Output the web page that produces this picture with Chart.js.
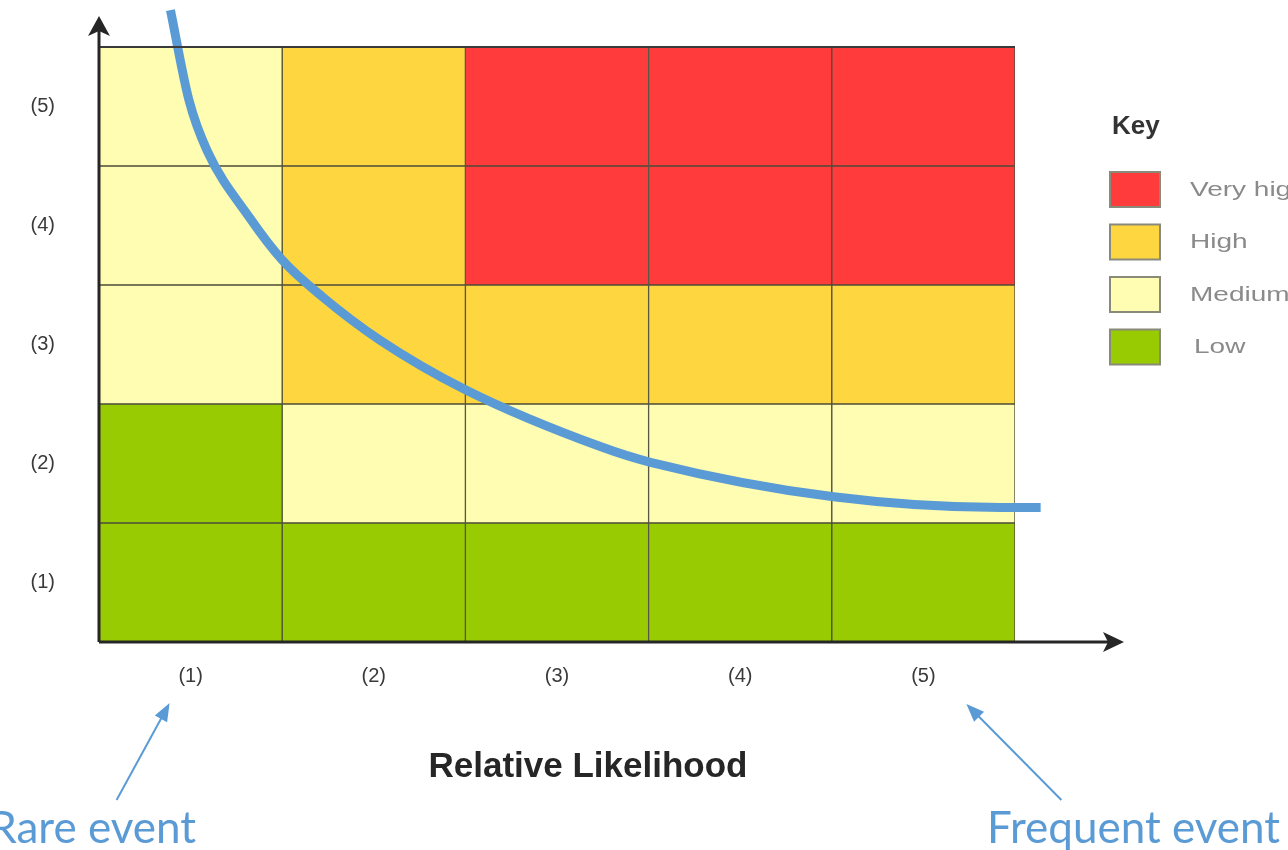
<!DOCTYPE html>
<html>
<head>
<meta charset="utf-8">
<script src="https://cdn.jsdelivr.net/npm/chart.js@4"></script>
<style>
  html, body { margin: 0; padding: 0; background: #fff; }
  #wrap { width: 1288px; height: 850px; position: relative; }
</style>
</head>
<body>
<div id="wrap"><canvas id="riskChart" width="1288" height="850"></canvas></div>
<script>
// categories
const likelihoodLabels = ['(1)', '(2)', '(3)', '(4)', '(5)'];
const severityLabels = ['(1)', '(2)', '(3)', '(4)', '(5)'];

// risk level of each cell, rows from severity (1) up to (5), columns likelihood (1)..(5)
const riskRow1 = ['Low', 'Low', 'Low', 'Low', 'Low'];
const riskRow2 = ['Low', 'Medium', 'Medium', 'Medium', 'Medium'];
const riskRow3 = ['Medium', 'High', 'High', 'High', 'High'];
const riskRow4 = ['Medium', 'High', 'Very high', 'Very high', 'Very high'];
const riskRow5 = ['Medium', 'High', 'Very high', 'Very high', 'Very high'];
const riskRows = [riskRow1, riskRow2, riskRow3, riskRow4, riskRow5];

// key
const keyLevels = ['Very high', 'High', 'Medium', 'Low'];
const keyColors = ['#ff3b3b', '#fed640', '#fefdb2', '#99cb03'];

// acceptability curve (likelihood, severity)
const curveX = [0.39, 0.49, 0.59, 0.82, 1.00, 1.22, 1.53, 2.00, 2.74, 3.01, 4.01, 4.92, 5.14];
const curveY = [5.31, 4.56, 4.13, 3.57, 3.21, 2.90, 2.54, 2.12, 1.64, 1.51, 1.22, 1.13, 1.13];

const colorOf = level => keyColors[keyLevels.indexOf(level)];

const cellDatasets = riskRows.map((row, i) => ({
    type: 'bar',
    label: 'Severity ' + severityLabels[i],
    stack: 'cells',
    grouped: false,
    data: row.map(() => 1),
    backgroundColor: row.map(colorOf),
    borderColor: '#4d4d3a',
    borderWidth: 1,
    borderSkipped: false,
    categoryPercentage: 1,
    barPercentage: 1,
    order: 1
}));

const curveDataset = {
    type: 'line',
    label: 'Curve',
    xAxisID: 'x2',
    data: curveX.map((x, i) => ({ x: x, y: curveY[i] })),
    borderColor: '#5b9bd5',
    borderWidth: 9,
    pointRadius: 0,
    cubicInterpolationMode: 'monotone',
    fill: false,
    clip: false,
    order: 0
};

const noPadding = s => {
    s.paddingTop = 0;
    s.paddingBottom = 0;
    s.paddingLeft = 0;
    s.paddingRight = 0;
};

// axes arrows, title, key and notes
const decorations = {
    id: 'decorations',
    afterDatasetsDraw(chart) {
        const { ctx, chartArea } = chart;
        const xs = chart.scales.x;
        const left = chartArea.left, bottom = chartArea.bottom;

        ctx.save();
        // top frame line
        ctx.strokeStyle = '#3a3a3a';
        ctx.lineWidth = 2;
        ctx.beginPath();
        ctx.moveTo(left, chartArea.top);
        ctx.lineTo(chartArea.right, chartArea.top);
        ctx.stroke();

        // axes
        ctx.strokeStyle = '#262626';
        ctx.fillStyle = '#262626';
        ctx.lineWidth = 3;
        ctx.beginPath();
        ctx.moveTo(left, bottom);
        ctx.lineTo(left, 30);
        ctx.moveTo(left, bottom);
        ctx.lineTo(1110, bottom);
        ctx.stroke();
        ctx.beginPath();
        ctx.moveTo(left, 16);
        ctx.lineTo(left - 11, 36);
        ctx.lineTo(left, 31);
        ctx.lineTo(left + 11, 36);
        ctx.closePath();
        ctx.fill();
        ctx.beginPath();
        ctx.moveTo(1124, bottom);
        ctx.lineTo(1103, bottom - 10);
        ctx.lineTo(1108, bottom);
        ctx.lineTo(1103, bottom + 10);
        ctx.closePath();
        ctx.fill();

        // axis title
        ctx.fillStyle = '#262626';
        ctx.font = 'bold 35px "Liberation Sans", Arial, sans-serif';
        ctx.textAlign = 'center';
        ctx.textBaseline = 'middle';
        ctx.fillText('Relative Likelihood', 588, 767);

        // key
        ctx.textAlign = 'left';
        ctx.fillStyle = '#333';
        ctx.font = 'bold 26px "Liberation Sans", Arial, sans-serif';
        ctx.fillText('Key', 1112, 127);
        keyLevels.forEach((lvl, i) => {
            const y = 172 + i * 52.5;
            ctx.fillStyle = keyColors[i];
            ctx.fillRect(1110, y, 50, 35);
            ctx.strokeStyle = '#8a8a7a';
            ctx.lineWidth = 2;
            ctx.strokeRect(1110, y, 50, 35);
            ctx.save();
            ctx.translate(1190 + (lvl === 'Low' ? 4 : 0), y + 18);
            ctx.scale(1.4, 1);
            ctx.fillStyle = '#8a8a8a';
            ctx.font = '20px "Liberation Sans", Arial, sans-serif';
            ctx.fillText(lvl, 0, 0);
            ctx.restore();
        });

        // notes with arrows
        const blue = '#5b9bd5';
        const arrow = (x1, y1, x2, y2) => {
            const a = Math.atan2(y2 - y1, x2 - x1);
            ctx.strokeStyle = blue;
            ctx.fillStyle = blue;
            ctx.lineWidth = 2;
            ctx.beginPath();
            ctx.moveTo(x1, y1);
            ctx.lineTo(x2 - 12 * Math.cos(a), y2 - 12 * Math.sin(a));
            ctx.stroke();
            ctx.beginPath();
            ctx.moveTo(x2, y2);
            ctx.lineTo(x2 - 18 * Math.cos(a) + 7 * Math.sin(a), y2 - 18 * Math.sin(a) - 7 * Math.cos(a));
            ctx.lineTo(x2 - 18 * Math.cos(a) - 7 * Math.sin(a), y2 - 18 * Math.sin(a) + 7 * Math.cos(a));
            ctx.closePath();
            ctx.fill();
        };
        const x1 = xs.getPixelForValue(0);
        const x5 = xs.getPixelForValue(4);
        arrow(x1 - 74, 800, x1 - 21, 703);
        arrow(x5 + 138, 800, x5 + 43, 704);

        ctx.fillStyle = blue;
        ctx.font = '44px Lato, "Open Sans", sans-serif';
        ctx.textBaseline = 'alphabetic';
        ctx.textAlign = 'right';
        ctx.fillText('Rare event', 196, 843);
        ctx.textAlign = 'left';
        ctx.fillText('Frequent event', 987, 843);
        ctx.restore();
    }
};

new Chart(document.getElementById('riskChart'), {
    data: {
        labels: likelihoodLabels,
        datasets: [...cellDatasets, curveDataset]
    },
    options: {
        responsive: false,
        animation: false,
        events: [],
        layout: { padding: { left: 0, top: 47, right: 273, bottom: 0 } },
        plugins: {
            legend: { display: false },
            tooltip: { enabled: false }
        },
        scales: {
            x: {
                stacked: true,
                grid: { display: false, drawTicks: false },
                border: { display: false },
                ticks: {
                    color: '#3a3a3a',
                    padding: 22,
                    font: { size: 20, family: '"Liberation Sans", Arial, sans-serif' }
                },
                afterFit: s => { s.height = 208; noPadding(s); }
            },
            x2: {
                type: 'linear',
                min: 0,
                max: 5,
                display: false
            },
            y: {
                stacked: true,
                min: 0,
                max: 5,
                grid: { display: false, drawTicks: false },
                border: { display: false },
                afterBuildTicks: s => { s.ticks = severityLabels.map((_, i) => ({ value: i + 0.5 })); },
                ticks: {
                    color: '#3a3a3a',
                    padding: 44,
                    font: { size: 20, family: '"Liberation Sans", Arial, sans-serif' },
                    callback: v => severityLabels[Math.floor(v)]
                },
                afterFit: s => { s.width = 99; noPadding(s); }
            }
        }
    },
    plugins: [decorations]
});
</script>
</body>
</html>
